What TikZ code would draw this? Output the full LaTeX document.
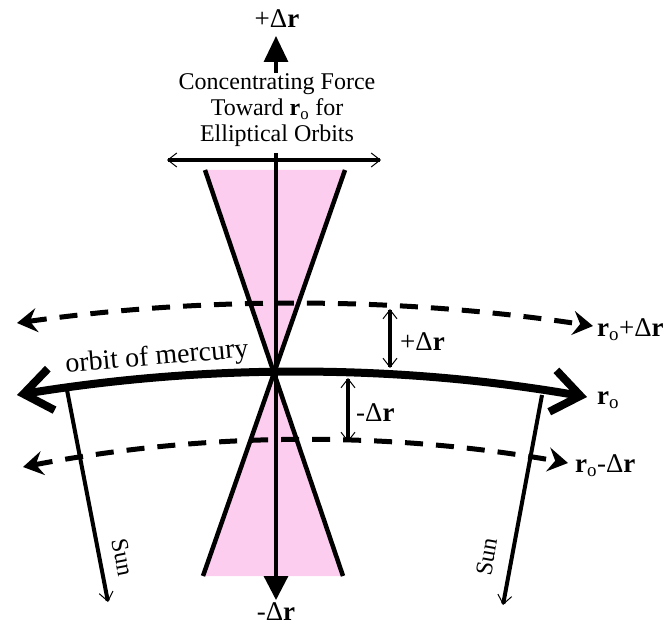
\documentclass[tikz,border=0pt]{standalone}
\usepackage{fontspec}
\setmainfont{Liberation Serif}
\usetikzlibrary{arrows.meta}
\definecolor{conepink}{RGB}{253,205,240}

\begin{document}
\begin{tikzpicture}[x=1pt,y=-1pt,
   cone/.style={fill=conepink,draw=none},
   coneedge/.style={line width=4.5pt,black},
   radialaxis/.style={-{Triangle[length=24pt,width=24pt]},line width=3.2pt},
   orbitline/.style={{Straight Barb[length=28pt,width=42pt]}-{Straight Barb[length=28pt,width=42pt]},
      line width=8pt},
   shellline/.style={{Stealth[length=20pt,width=24pt,inset=7pt]}-{Stealth[length=20pt,width=24pt,inset=7pt]},
      line width=5pt,dash pattern=on 18pt off 13pt},
   gaparrow/.style={line width=4pt,
      arrows={Straight Barb[length=9pt,width=14pt,line width=0pt 0.25]-Straight Barb[length=9pt,width=14pt,line width=0pt 0.25]}},
   sunray/.style={line width=4pt,
      arrows={-Straight Barb[length=9pt,width=14pt,line width=0pt 0.25]}},
   txt/.style={font=\fontsize{24}{26}\selectfont,inner sep=0pt,align=center},
   lbl/.style={font=\fontsize{27}{29}\selectfont,inner sep=0pt}]
  \useasboundingbox (0,0) rectangle (671,628);

  % cone corners and the crossing point
  \coordinate (ulft) at (205,170);
  \coordinate (urt)  at (345,170);
  \coordinate (llft) at (203,576);
  \coordinate (lrt)  at (343,576);
  \coordinate (apex) at (intersection of ulft--lrt and urt--llft);

  \fill[cone] (ulft) -- (urt) -- (apex) -- cycle;
  \fill[cone] (apex) -- (lrt) -- (llft) -- cycle;
  \draw[coneedge] (ulft) -- (lrt);
  \draw[coneedge] (urt) -- (llft);

  % outer and inner orbits (dashed) and the orbit of mercury
  \coordinate (outerL) at (17,323);
  \coordinate (outerR) at (593,326);
  \coordinate (orbL)   at (17,395);
  \coordinate (orbR)   at (587,397);
  \coordinate (innerL) at (23,467);
  \coordinate (innerR) at (568,463);
  \draw[shellline] (outerL) .. controls (209,296) and (401,297) .. (outerR);
  \draw[shellline] (innerL) .. controls (205,432) and (387,431) .. (innerR);
  \draw[orbitline] (orbL) .. controls (207,364) and (397,364) .. (orbR);

  % radial axis
  \coordinate (axtop) at (276,153);
  \coordinate (axbot) at (276,600);
  \draw[radialaxis] (axtop) -- (axbot);
  \coordinate (uptail) at (276,73);
  \coordinate (uptip)  at (276,36);
  \draw[radialaxis,-{Triangle[length=26pt,width=24pt]}] (uptail) -- (uptip);

  % force bar
  \coordinate (barL) at (167,160);
  \coordinate (barR) at (381,160);
  \draw[gaparrow] (barL) -- (barR);

  % gaps between orbits
  \coordinate (plusA) at (390,368);
  \coordinate (plusB) at (390,309);
  \coordinate (minA)  at (348,378);
  \coordinate (minB)  at (348,442);
  \draw[gaparrow] (plusA) -- (plusB);
  \draw[gaparrow] (minA) -- (minB);

  % directions to the sun
  \coordinate (sunLa) at (67,390);
  \coordinate (sunLb) at (108,602);
  \coordinate (sunRa) at (542,395);
  \coordinate (sunRb) at (503,605);
  \draw[sunray] (sunLa) -- (sunLb);
  \draw[sunray] (sunRa) -- (sunRb);

  % labels
  \node[lbl] (plustop) at (277,19) {+Δ\textbf{r}};
  \node[lbl] (minbot)  at (276,612) {-Δ\textbf{r}};
  \node[txt] (force) at (277,110)
    {Concentrating Force\\Toward \textbf{r}\textsubscript{o} for\\Elliptical Orbits};
  \node[lbl,font=\fontsize{28}{30}\selectfont,rotate=5] (orbtxt) at (157,358) {orbit of mercury};
  \node[lbl,anchor=west] (pluslbl) at (400,342) {+Δ\textbf{r}};
  \node[lbl,anchor=west] (minlbl)  at (356,413) {-Δ\textbf{r}};
  \node[lbl,anchor=west] (outlbl)  at (597,330) {\textbf{r}\textsubscript{o}+Δ\textbf{r}};
  \node[lbl,anchor=west] (orblbl)  at (597,400) {\textbf{r}\textsubscript{o}};
  \node[lbl,anchor=west] (inlbl)   at (575,466) {\textbf{r}\textsubscript{o}-Δ\textbf{r}};
  \node[txt,rotate=-79] (sunL) at (123,557) {Sun};
  \node[txt,rotate=79.5] (sunR) at (487,557) {Sun};
\end{tikzpicture}
\end{document}
